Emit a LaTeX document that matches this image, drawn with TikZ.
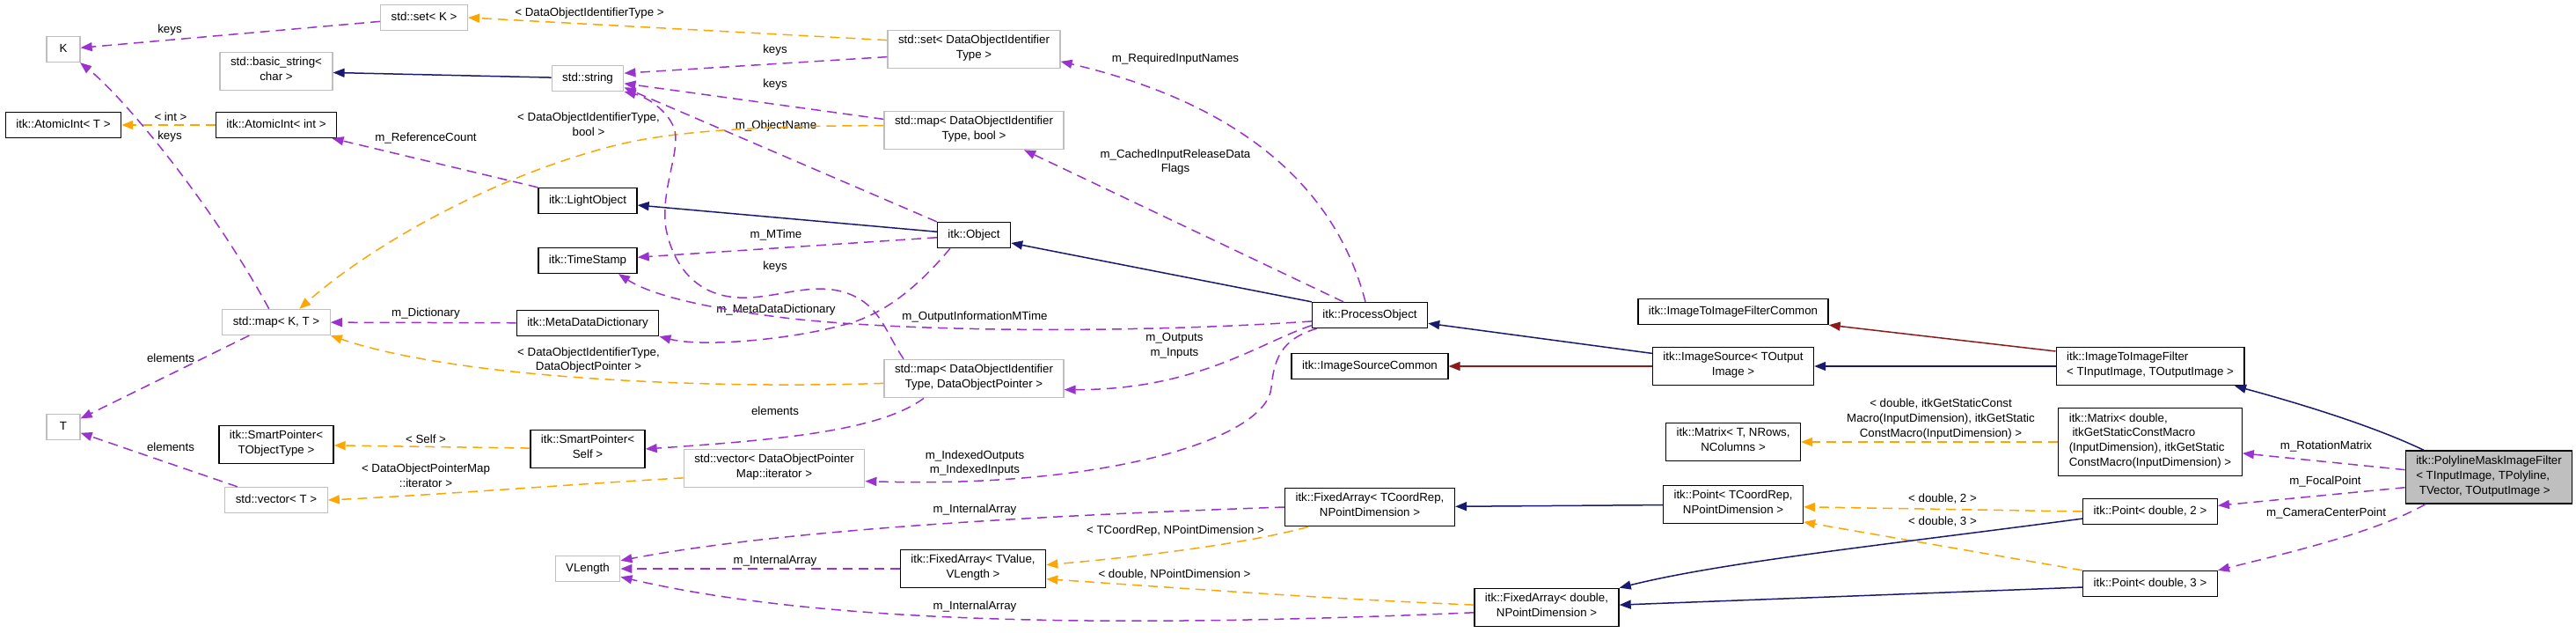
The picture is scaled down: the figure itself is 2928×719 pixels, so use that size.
\documentclass[tikz,border=0pt]{standalone}
\usepackage{fontspec}
\setmainfont{Liberation Sans}
\usepackage{tikz}
\usetikzlibrary{arrows.meta}
\definecolor{usecol}{HTML}{9A32CD}
\definecolor{tplcol}{HTML}{FFA500}
\definecolor{inhcol}{HTML}{191970}
\definecolor{prvcol}{HTML}{8B1A1A}
\definecolor{extcol}{HTML}{BFBFBF}
\tikzstyle{cls} = [rectangle, draw=black, line width=1.3pt, align=center, inner xsep=12pt, inner ysep=6pt, minimum height=29pt, minimum width=38pt, execute at begin node=\strut, execute at end node=\strut]
\tikzstyle{ext} = [cls, draw=extcol]
\tikzstyle{cur} = [cls, fill=extcol]
\tikzstyle{lbl} = [align=center, inner sep=0pt]
\tikzstyle{usage} = [draw=usecol, line width=1.5pt, dash pattern=on 11pt off 7pt, -{Triangle[length=13pt,width=10pt]}]
\tikzstyle{tmpl} = [draw=tplcol, line width=1.5pt, dash pattern=on 11pt off 7pt, -{Triangle[length=13pt,width=10pt]}]
\tikzstyle{inh} = [draw=inhcol, line width=1.5pt, -{Triangle[length=13pt,width=10pt]}]
\tikzstyle{priv} = [draw=prvcol, line width=1.5pt, -{Triangle[length=13pt,width=10pt]}]
\begin{document}
\begin{tikzpicture}
	[x=1pt, y=-1pt,
	font=\fontsize{13.3pt}{16.7pt}\selectfont
	]
	\useasboundingbox (0,0) rectangle (2928,719);
	\draw (72,56) node[ext](K){K};
	\draw (482,20) node[ext](setK){std::set< K >};
	\draw (314,81) node[ext](bstring){std::basic\_string<\\char >};
	\draw (668,89) node[ext](string){std::string};
	\draw (72,142) node[cls](aiT){itk::AtomicInt< T >};
	\draw (314,142) node[cls](aiInt){itk::AtomicInt< int >};
	\draw (668,228) node[cls](light){itk::LightObject};
	\draw (668,296) node[cls](tstamp){itk::TimeStamp};
	\draw (314,366) node[ext](mapKT){std::map< K, T >};
	\draw (668,367) node[cls](mdd){itk::MetaDataDictionary};
	\draw (72,485) node[ext](T){T};
	\draw (314,505) node[cls](spT){itk::SmartPointer<\\TObjectType >};
	\draw (668,510) node[cls](spSelf){itk::SmartPointer<\\Self >};
	\draw (314,568) node[ext](vecT){std::vector< T >};
	\draw (668,646) node[ext](vlen){VLength};
	\draw (1107,56) node[ext](setDOIT){std::set< DataObjectIdentifier\\Type >};
	\draw (1107,148) node[ext](mapBool){std::map< DataObjectIdentifier\\Type, bool >};
	\draw (1107,267) node[cls](object){itk::Object};
	\draw (1107,430) node[ext](mapDOP){std::map< DataObjectIdentifier\\Type, DataObjectPointer >};
	\draw (880,532) node[ext](vecDOP){std::vector< DataObjectPointer\\Map::iterator >};
	\draw (1106,646) node[cls](faTV){itk::FixedArray< TValue,\\VLength >};
	\draw (1557,358) node[cls](process){itk::ProcessObject};
	\draw (1557,416) node[cls](isCommon){itk::ImageSourceCommon};
	\draw (1557,576) node[cls](faTC){itk::FixedArray< TCoordRep,\\NPointDimension >};
	\draw (1758,690) node[cls](faDouble){itk::FixedArray< double,\\NPointDimension >};
	\draw (1970,354) node[cls](itifCommon){itk::ImageToImageFilterCommon};
	\draw (1970,416) node[cls](isource){itk::ImageSource< TOutput\\Image >};
	\draw (1970,502) node[cls](matrixT){itk::Matrix< T, NRows,\\NColumns >};
	\draw (1970,573) node[cls](pointTC){itk::Point< TCoordRep,\\NPointDimension >};
	\draw (2444,416) node[cls, align=left](itif){itk::ImageToImageFilter\\< TInputImage, TOutputImage >};
	\draw (2444,502) node[cls, align=left](matrixD){itk::Matrix< double,\\\ itkGetStaticConstMacro\\(InputDimension), itkGetStatic\\ConstMacro(InputDimension) >};
	\draw (2829,542) node[cur, align=left](polyline){itk::PolylineMaskImageFilter\\< TInputImage, TPolyline,\\\ TVector, TOutputImage >};
	\draw (2444,581) node[cls](point2){itk::Point< double, 2 >};
	\draw (2444,663) node[cls](point3){itk::Point< double, 3 >};
	\draw (193,34) node[lbl](lKeysK){keys};
	\draw (194,133) node[lbl](lInt){< int >};
	\draw (193,155) node[lbl](lKeysMap){keys};
	\draw (194,407) node[lbl](lElemMap){elements};
	\draw (194,508) node[lbl](lElemVec){elements};
	\draw (670,15) node[lbl](lSetArg){< DataObjectIdentifierType >};
	\draw (669,141) node[lbl](lMapBoolArg){< DataObjectIdentifierType,\\bool >};
	\draw (484,157) node[lbl](lRefCount){m\_ReferenceCount};
	\draw (484,356) node[lbl](lDict){m\_Dictionary};
	\draw (669,409) node[lbl](lMapDOPArg){< DataObjectIdentifierType,\\DataObjectPointer >};
	\draw (484,499) node[lbl](lSelf){< Self >};
	\draw (484,540) node[lbl](lIterArg){< DataObjectPointerMap\\::iterator >};
	\draw (881,57) node[lbl](lKeysSet){keys};
	\draw (1336,67) node[lbl](lReqNames){m\_RequiredInputNames};
	\draw (881,96) node[lbl](lKeysBool){keys};
	\draw (882,143) node[lbl](lObjName){m\_ObjectName};
	\draw (1336,184) node[lbl](lCached){m\_CachedInputReleaseData\\Flags};
	\draw (882,267) node[lbl](lMTime){m\_MTime};
	\draw (881,303) node[lbl](lKeysDOP){keys};
	\draw (882,352) node[lbl](lMDD){m\_MetaDataDictionary};
	\draw (1108,360) node[lbl](lOutInfo){m\_OutputInformationMTime};
	\draw (1335,393) node[lbl](lInOut){m\_Outputs\\m\_Inputs};
	\draw (881,467) node[lbl](lElemDOP){elements};
	\draw (1108,526) node[lbl](lIndexed){m\_IndexedOutputs\\m\_IndexedInputs};
	\draw (1108,579) node[lbl](lArrTC){m\_InternalArray};
	\draw (1336,603) node[lbl](lTCArg){< TCoordRep, NPointDimension >};
	\draw (881,637) node[lbl](lArrTV){m\_InternalArray};
	\draw (1335,653) node[lbl](lDblArg){< double, NPointDimension >};
	\draw (1108,689) node[lbl](lArrDbl){m\_InternalArray};
	\draw (2206,476) node[lbl](lMatArg){< double, itkGetStaticConst\\Macro(InputDimension), itkGetStatic\\ConstMacro(InputDimension) >};
	\draw (2208,567) node[lbl](lTwo){< double, 2 >};
	\draw (2208,593) node[lbl](lThree){< double, 3 >};
	\draw (2644,507) node[lbl](lRot){m\_RotationMatrix};
	\draw (2643,547) node[lbl](lFocal){m\_FocalPoint};
	\draw (2644,583) node[lbl](lCamera){m\_CameraCenterPoint};
	\foreach \from/\to in {setK/K, mapKT/T, vecT/T, mdd/mapKT, object/tstamp, faTV/vlen,
		light.north west/aiInt, object.north west/string.346, setDOIT.185/string.8,
		mapBool.173/string.352, polyline.175/matrixD.353, polyline.187/point2.5}
	\draw[usage] (\from) -- (\to);
	\foreach \from/\to in {aiInt/aiT, spSelf/spT, matrixD/matrixT, setDOIT.174/setK.east,
		point2.west/pointTC.358, point3.north west/pointTC.346}
	\draw[tmpl] (\from) -- (\to);
	\foreach \from/\to in {string/bstring, object/light, pointTC/faTC, itif/isource,
		process.north west/object.348, isource.171/process.352, point3.183/faDouble.2}
	\draw[inh] (\from) -- (\to);
	\foreach \from/\to in {isource/isCommon, itif.171/itifCommon.south east}
	\draw[priv] (\from) -- (\to);
	\draw[usage] (mapKT) .. controls (240,230) and (140,110) .. (K);
	\draw[tmpl] (mapBool.177) .. controls (850,143) and (760,150) .. (700,165) .. controls (560,200) and (420,280) .. (mapKT.30);
	\draw[usage] ([xshift=-80pt]mapDOP.north) .. controls (1005,375) and (1000,345) .. (960,332) .. controls (920,320) and (880,340) .. (840,338) .. controls (790,336) and (765,300) .. (757,260) .. controls (750,215) and (775,170) .. (766,145) .. controls (758,125) and (735,110) .. (string.340);
	\draw[usage] ([xshift=-27pt]object.south) .. controls (1040,330) and (1000,360) .. (955,370) .. controls (900,385) and (800,395) .. (mdd.south east);
	\draw[usage] (process.186) .. controls (1300,378) and (1050,378) .. (900,362) .. controls (800,350) and (740,335) .. ([xshift=35pt]tstamp.south);
	\draw[usage] (process.190) .. controls (1430,390) and (1360,443) .. (mapDOP.353);
	\draw[usage] ([xshift=-60pt]process.south) .. controls (1455,385) and (1448,410) .. (1445,440) .. controls (1440,500) and (1250,555) .. (vecDOP.352);
	\draw[usage] ([xshift=-5pt]process.north) .. controls (1520,220) and (1420,120) .. (setDOIT.352);
	\draw[usage] ([xshift=-30pt]process.north) -- ([xshift=57pt]mapBool.south);
	\draw[tmpl] (mapDOP.183) .. controls (800,442) and (520,430) .. (mapKT.south east);
	\draw[usage] ([xshift=-57pt]mapDOP.south) .. controls (1000,490) and (880,500) .. (spSelf.east);
	\draw[tmpl] (vecDOP.186) .. controls (650,550) and (500,562) .. (vecT.east);
	\draw[usage] (faTC.west) .. controls (1200,585) and (900,600) .. (vlen.14);
	\draw[usage] (faDouble.184) .. controls (1300,712) and (950,712) .. (vlen.346);
	\draw[tmpl] ([xshift=-70pt]faTC.south) .. controls (1420,617) and (1300,632) .. (faTV.3);
	\draw[tmpl] (faDouble.178) .. controls (1500,680) and (1300,665) .. (faTV.352);
	\draw[inh] ([xshift=-74pt]polyline.north) .. controls (2700,485) and (2620,460) .. ([xshift=96pt]itif.south);
	\draw[usage] ([xshift=-72pt]polyline.south) .. controls (2700,605) and (2600,628) .. (point3.north east);
	\draw[inh] (point2.186) .. controls (2150,618) and (1960,638) .. (faDouble.north east);
\end{tikzpicture}
\end{document}
